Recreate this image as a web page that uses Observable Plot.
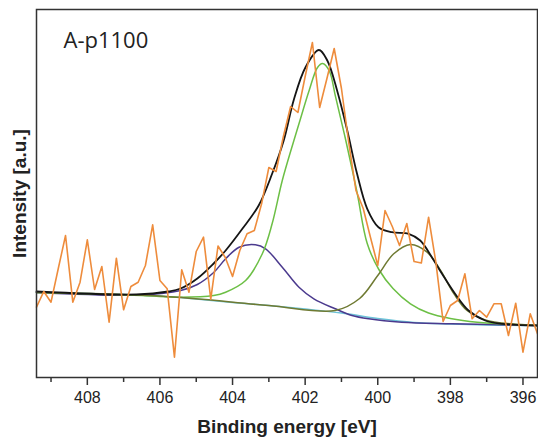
<!DOCTYPE html>
<html>
<head>
<meta charset="utf-8">
<script src="https://cdn.jsdelivr.net/npm/d3@7"></script>
<script src="https://cdn.jsdelivr.net/npm/@observablehq/plot@0.6"></script>
<style>
  html, body { margin: 0; padding: 0; background: #fff; }
</style>
</head>
<body>
<div id="chart"></div>
<script>
// Measured spectrum (binding energy in eV, intensity in arbitrary units)
const dataEnergy = [409.4,409.2,409.0,408.8,408.6,408.4,408.2,408.0,407.8,407.6,407.4,407.2,407.0,406.8,406.6,406.4,406.2,406.0,405.8,405.6,405.4,405.2,405.0,404.8,404.6,404.4,404.2,404.0,403.8,403.6,403.4,403.2,403.0,402.8,402.6,402.4,402.2,402.0,401.8,401.6,401.4,401.2,401.0,400.8,400.6,400.4,400.2,400.0,399.8,399.6,399.4,399.2,399.0,398.8,398.6,398.4,398.2,398.0,397.8,397.6,397.4,397.2,397.0,396.8,396.6,396.4,396.2,396.0,395.8,395.6];
const dataIntensity = [70.3,86,75.3,109,142,75.3,95.3,137.7,88,111,55.3,119.3,67.7,91,95.3,112,152.7,97,88.7,20.3,107.7,85.3,126,140.3,78.3,131.5,120,101,127,143.7,147,173.7,210,206,241,271,265,301,335,270,299,329,289,235,187,169,140,112,167,151,132,154,116,114.5,160.3,115.3,56,72,77,103.7,58.7,67,60.3,73.7,73.7,42,74.3,25.3,63.7,43.7];

// Fit envelope
const envelopeEnergy = [409.4,406.65,405.77,405.43,404.97,404.52,404.19,403.73,403.28,402.91,402.59,402.31,401.99,401.62,401.39,401.12,400.84,400.57,400.29,399.98,399.61,399.15,398.83,398.51,398.23,397.87,397.5,397.04,396.58,395.6];
const envelopeIntensity = [86,83,86,89,99,114,127,148.7,172,203.7,237,278,310.3,327.5,317,287,247,203.7,168.7,150.3,145.3,143.7,137,120.3,103.7,83.7,67,57,53.7,52];

// Background
const baselineEnergy = [409.4,408,407,406,405,404,403,402,401,400,399,398,397,396,395.6];
const baselineIntensity = [85,84,83,81.5,78.5,75,72,68.5,64.5,59,55,53.5,52.5,52,52];

// Component ~403.4 eV (purple)
const purpleEnergy = [409.4,406.5,405.43,404.97,404.52,404.19,403.82,403.37,403.09,402.63,402.17,401.76,401.17,400.71,400.25,399.34,397.96,395.6];
const purpleIntensity = [85,82.5,87,93,105,118.7,130.3,132.7,128.7,110.3,90.3,78.7,68.7,62,58.7,55.3,53.7,52];

// Component ~401.5 eV (green)
const greenEnergy = [409.4,406.5,405.43,404.52,404.19,403.64,403.18,402.91,402.63,402.31,402.16,401.89,401.66,401.52,401.34,401.16,400.88,400.57,400.29,399.97,399.58,399.1,398.6,398.0,397.26,395.6];
const greenIntensity = [85,82,80.3,82,85.3,97,123.7,153.7,197,237,255,287,310,314,307,280.3,237,185,134,108,89,73.7,64.5,59,55.3,52];

// Component ~399.1 eV (olive)
const oliveEnergy = [409.4,406,403,401.17,400.5,400.0,399.56,399.1,398.64,398.27,397.9,397.54,396.99,396.35,395.6];
const oliveIntensity = [85,81.5,72,67,79,102,123.7,133,125.3,107,83.7,67,57,53.7,52];

const majorTicks = [408,406,404,402,400,398,396];
const minorTicks = [409,407,405,403,401,399,397];
const sampleLabel = ["A-p1100"];
const xTitle = ["Binding energy [eV]"];
const yTitle = ["Intensity [a.u.]"];

const rows = (xs, ys) => xs.map((e, i) => ({e, v: ys[i]}));

const lineOpts = (stroke, w) => ({x: "e", y: "v", stroke, strokeWidth: w, curve: "catmull-rom"});

const chart = Plot.plot({
  width: 538,
  height: 443,
  marginLeft: 36,
  marginRight: 1,
  marginTop: 9,
  marginBottom: 66,
  style: {fontFamily: "'Liberation Sans', Arial, sans-serif", background: "#fff", color: "#222"},
  x: {domain: [409.4, 395.6], label: null},
  y: {domain: [0, 368], axis: null, label: null},
  marks: [
    Plot.axisX({ticks: minorTicks, tickSize: 5, tickFormat: () => "", strokeWidth: 1.5, stroke: "#333", label: null}),
    Plot.axisX({ticks: majorTicks, tickSize: 8, tickPadding: 6, fontSize: 16, strokeWidth: 1.5, stroke: "#333", fill: "#222", label: null}),
    Plot.line(rows(baselineEnergy, baselineIntensity), lineOpts("#6cc3d8", 1.4)),
    Plot.line(rows(purpleEnergy, purpleIntensity), lineOpts("#4b3a8e", 1.5)),
    Plot.line(rows(greenEnergy, greenIntensity), lineOpts("#6cbf45", 1.5)),
    Plot.line(rows(oliveEnergy, oliveIntensity), lineOpts("#6f7a32", 1.5)),
    Plot.line(rows(envelopeEnergy, envelopeIntensity), lineOpts("#151515", 1.8)),
    Plot.line(rows(dataEnergy, dataIntensity), {x: "e", y: "v", stroke: "#ee8c3c", strokeWidth: 1.6}),
    Plot.frame({stroke: "#333", strokeWidth: 1.5}),
    Plot.text(sampleLabel, {text: d => d, frameAnchor: "top-left", textAnchor: "start", lineAnchor: "top", dx: 27, dy: 23, fontSize: 22, fontFamily: "'Open Sans', sans-serif", fill: "#222"}),
    Plot.text(yTitle, {text: d => d, frameAnchor: "left", textAnchor: "middle", lineAnchor: "middle", rotate: -90, dx: -16.5, fontSize: 19, fontWeight: "bold", fill: "#222"}),
    Plot.text(xTitle, {text: d => d, frameAnchor: "bottom", textAnchor: "middle", lineAnchor: "middle", dy: 49.5, fontSize: 19, fontWeight: "bold", fill: "#222"})
  ]
});
document.getElementById("chart").appendChild(chart);
</script>
</body>
</html>
